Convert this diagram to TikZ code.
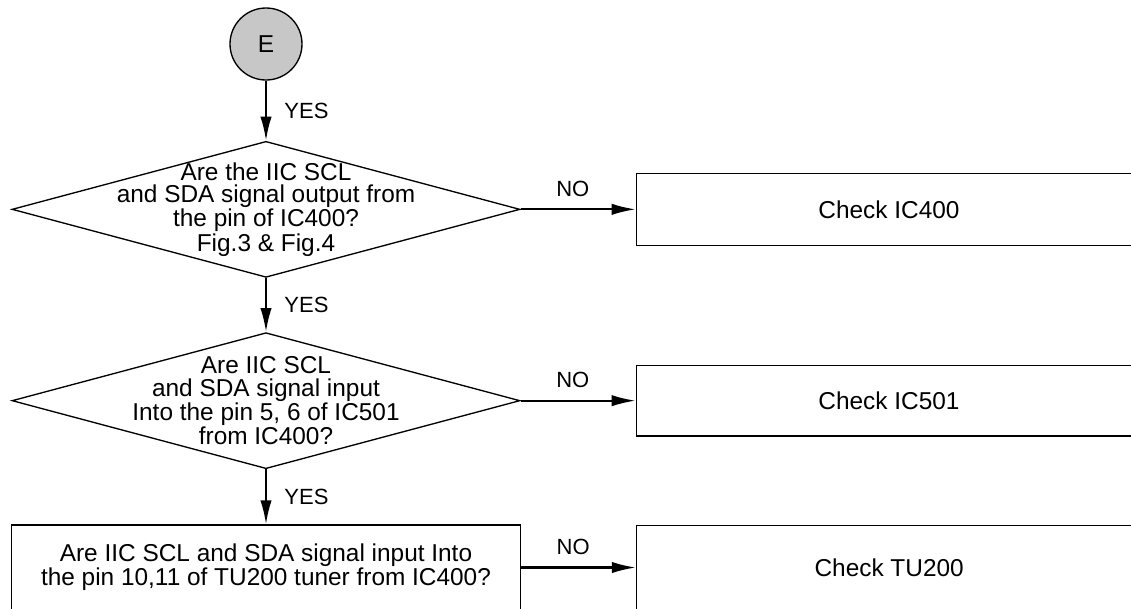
\documentclass[tikz,border=0pt]{standalone}
\usepackage{fontspec}
\setmainfont{Liberation Sans}
\usetikzlibrary{arrows.meta, positioning, shapes.geometric}

\begin{document}
\begin{tikzpicture}[
  font=\fontsize{18.3}{17}\selectfont,
  node distance=40.5pt and 86.25pt,
  decision/.style={draw, diamond, minimum width=381pt, minimum height=102pt,
    inner sep=0pt, line width=1pt},
  question/.style={align=center, inner sep=0pt},
  proc/.style={draw, align=center, minimum width=381.75pt, minimum height=63.75pt,
    line width=1pt},
  check/.style={draw, minimum width=379pt, line width=1pt},
  arrow/.style={-{Latex[length=18pt, width=8.5pt]}, line width=1.6pt},
  yeslabel/.style={midway, right=13pt, inner sep=0pt, font=\fontsize{16.5}{17}\selectfont},
  nolabel/.style={midway, above=9pt, inner sep=0pt, xshift=-4pt, font=\fontsize{16.5}{17}\selectfont}
]
\useasboundingbox (0,0) rectangle (848.25pt,-456pt);
\node[circle, draw, fill=black!22, minimum size=54pt, inner sep=0pt, line width=1pt]
  (start) at (199.5pt,-33pt) {E};
\node[decision, below=45pt of start] (dec1) {};
\node[question] (dec1txt) at (dec1) {Are the IIC SCL\\and SDA signal output from\\the pin of IC400?\\Fig.3 \& Fig.4};
\node[decision, below=of dec1] (dec2) {};
\node[question] (dec2txt) at (dec2) {Are IIC SCL\\and SDA signal input\\Into the pin 5, 6 of IC501\\from IC400?};
\node[proc, below=41.25pt of dec2] (tuner) {Are IIC SCL and SDA signal input Into\\the pin 10,11 of TU200 tuner from IC400?};
\node[check, minimum height=54pt, right=of dec1] (chk400) {Check IC400};
\node[check, minimum height=53pt, right=of dec2] (chk501) {Check IC501};
\node[check, minimum height=63pt, right=86pt of tuner] (chk200) {Check TU200};
\draw[arrow] (start) -- node[yeslabel] {YES} (dec1);
\draw[arrow] (dec1) -- node[yeslabel] {YES} (dec2);
\draw[arrow] (dec2) -- node[yeslabel] {YES} (tuner);
\draw[arrow] (dec1) -- node[nolabel] {NO} (chk400);
\draw[arrow] (dec2) -- node[nolabel] {NO} (chk501);
\draw[arrow] (tuner) -- node[nolabel] {NO} (chk200);
\end{tikzpicture}
\end{document}
